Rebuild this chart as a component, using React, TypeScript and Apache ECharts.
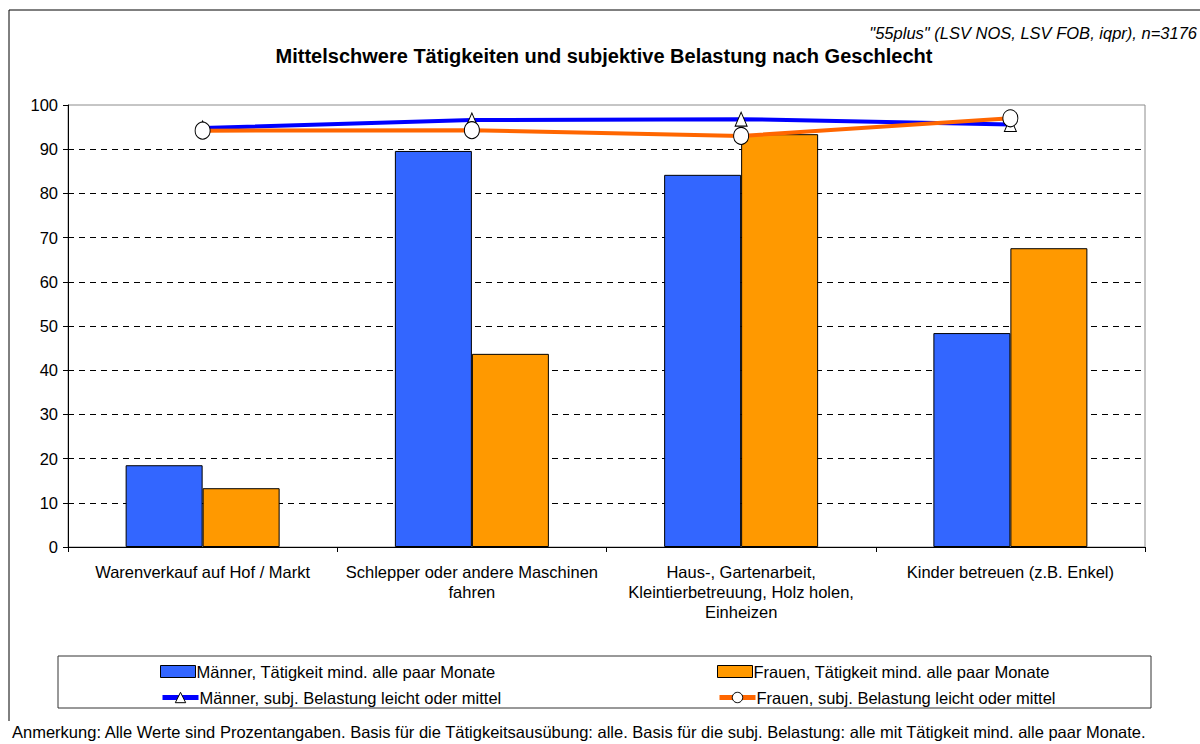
import React, { useEffect, useRef } from "react";
import * as echarts from "echarts";

const categories = [
  "Warenverkauf auf Hof / Markt",
  "Schlepper oder andere Maschinen\nfahren",
  "Haus-, Gartenarbeit,\nKleintierbetreuung, Holz holen,\nEinheizen",
  "Kinder betreuen (z.B. Enkel)",
];
const maennerTaetigkeit = [18.5, 89.6, 84.2, 48.4];
const frauenTaetigkeit = [13.3, 43.7, 93.4, 67.6];
const maennerBelastung = [94.8, 96.6, 96.8, 95.6];
const frauenBelastung = [94.2, 94.3, 93.0, 97.0];

const seriesNames = [
  "Männer, Tätigkeit mind. alle paar Monate",
  "Frauen, Tätigkeit mind. alle paar Monate",
  "Männer, subj. Belastung leicht oder mittel",
  "Frauen, subj. Belastung leicht oder mittel",
];

const titleText = "Mittelschwere Tätigkeiten und subjektive Belastung nach Geschlecht";
const sourceText = "\"55plus\" (LSV NOS, LSV FOB, iqpr), n=3176";
const noteText =
  "Anmerkung: Alle Werte sind Prozentangaben. Basis für die Tätigkeitsausübung: alle. Basis für die subj. Belastung: alle mit Tätigkeit mind. alle paar Monate.";

const FONT = "'Liberation Sans', Arial, sans-serif";
const FS = 16.5;

export default function App() {
  const ref = useRef<HTMLDivElement>(null);
  useEffect(() => {
    if (!ref.current) return;
    const chart = echarts.init(ref.current, undefined, { renderer: "svg" });
    const legendText = { fontFamily: FONT, fontSize: FS, color: "#000" };
    const mkBarLegend = (name: string, color: string, left: number, top: number) => ({
      data: [{ name, icon: "rect", itemStyle: { color, borderColor: "#000", borderWidth: 1 } }],
      left,
      top,
      padding: 0,
      itemWidth: 35,
      itemHeight: 12,
      itemGap: 2,
      textStyle: { ...legendText, padding: [0, 0, 0, -4] },
      selectedMode: false,
    });
    const mkLineLegend = (name: string, color: string, left: number, top: number) => ({
      data: [
        {
          name,
          lineStyle: { color, width: 5 },
          itemStyle: { color: "#fff", borderColor: "#000", borderWidth: 1 },
        },
      ],
      left,
      top,
      padding: 0,
      itemWidth: 36,
      itemHeight: 13,
      itemGap: 2,
      textStyle: { ...legendText, padding: [0, 0, 0, -4] },
      selectedMode: false,
    });
    chart.setOption({
      animation: false,
      backgroundColor: "#fff",
      textStyle: { fontFamily: FONT },
      grid: {
        left: 68,
        right: 55,
        top: 105,
        bottom: 197,
        show: true,
        borderColor: "#8c8c8c",
        borderWidth: 1,
        backgroundColor: "transparent",
      },
      legend: [
        mkBarLegend(seriesNames[0], "#3366ff", 160, 663),
        mkBarLegend(seriesNames[1], "#ff9900", 717, 663),
        mkLineLegend(seriesNames[2], "#0000ff", 160, 689),
        mkLineLegend(seriesNames[3], "#ff6600", 717, 689),
      ],
      xAxis: {
        type: "category",
        data: categories,
        boundaryGap: true,
        axisLine: { lineStyle: { color: "#000", width: 1 } },
        axisTick: { show: true, length: 5, lineStyle: { color: "#000" } },
        axisLabel: {
          color: "#000",
          fontFamily: FONT,
          fontSize: FS,
          lineHeight: 20,
          margin: 15,
          interval: 0,
          align: "center",
        },
        splitLine: { show: false },
      },
      yAxis: {
        type: "value",
        min: 0,
        max: 100,
        interval: 10,
        axisLine: { show: true, lineStyle: { color: "#000", width: 1 } },
        axisTick: { show: true, length: 5, lineStyle: { color: "#000" } },
        axisLabel: { color: "#000", fontFamily: FONT, fontSize: FS, margin: 10 },
        splitLine: {
          show: true,
          showMinLine: false,
          showMaxLine: false,
          lineStyle: { color: "#000", type: [6, 5], width: 1 },
        },
      },
      series: [
        {
          name: seriesNames[0],
          type: "bar",
          data: maennerTaetigkeit,
          barWidth: 77,
          barGap: "0%",
          itemStyle: { color: "#3366ff", borderColor: "#000", borderWidth: 1 },
        },
        {
          name: seriesNames[1],
          type: "bar",
          data: frauenTaetigkeit,
          barWidth: 77,
          barGap: "0%",
          itemStyle: { color: "#ff9900", borderColor: "#000", borderWidth: 1 },
        },
        {
          name: seriesNames[2],
          type: "line",
          data: maennerBelastung,
          symbol: "triangle",
          symbolSize: [12, 14],
          showAllSymbol: true,
          lineStyle: { color: "#0000ff", width: 4 },
          itemStyle: { color: "#fff", borderColor: "#000", borderWidth: 1 },
          z: 3,
        },
        {
          name: seriesNames[3],
          type: "line",
          data: frauenBelastung,
          symbol: "circle",
          symbolSize: [15, 17],
          showAllSymbol: true,
          lineStyle: { color: "#ff6600", width: 4 },
          itemStyle: { color: "#fff", borderColor: "#000", borderWidth: 1 },
          z: 4,
        },
      ],
      graphic: [
        {
          type: "line",
          shape: { x1: 9, y1: 10, x2: 1200, y2: 10 },
          style: { stroke: "#000", lineWidth: 1 },
        },
        {
          type: "line",
          shape: { x1: 9, y1: 10, x2: 9, y2: 721 },
          style: { stroke: "#000", lineWidth: 1 },
        },
        {
          type: "rect",
          shape: { x: 58, y: 656, width: 1093, height: 52 },
          style: { fill: "transparent", stroke: "#333", lineWidth: 1 },
          z: -1,
        },
        {
          type: "text",
          x: 604,
          y: 56,
          style: {
            text: titleText,
            font: `bold 20px ${FONT}`,
            fill: "#000",
            align: "center",
            verticalAlign: "middle",
          },
        },
        {
          type: "text",
          x: 1197,
          y: 33,
          style: {
            text: sourceText,
            font: `italic ${FS}px ${FONT}`,
            fill: "#000",
            align: "right",
            verticalAlign: "middle",
          },
        },
        {
          type: "text",
          x: 12,
          y: 732,
          style: {
            text: noteText,
            font: `${FS}px ${FONT}`,
            fill: "#000",
            align: "left",
            verticalAlign: "middle",
          },
        },
      ],
    });
    return () => chart.dispose();
  }, []);
  return <div ref={ref} style={{ width: 1200, height: 744, position: "absolute", left: 0, top: 0 }} />;
}
